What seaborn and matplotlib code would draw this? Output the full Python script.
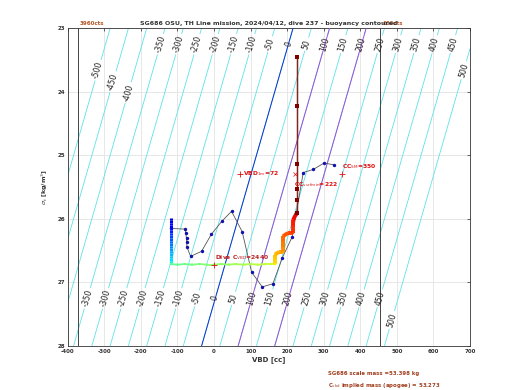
import numpy as np
import matplotlib
matplotlib.use("Agg")
import matplotlib.pyplot as plt
import seaborn as sns
import pandas as pd
from matplotlib.collections import LineCollection

# ---------------- data ----------------
vbd_ticks = [-400, -300, -200, -100, 0, 100, 200, 300, 400, 500, 600, 700]
sigma_ticks = [23, 24, 25, 26, 27, 28]

# buoyancy model: B[g] = VBD - buoy_vbd0 + buoy_per_sigma*(sigma - 23)
buoy_vbd0 = 216
buoy_per_sigma = 50
contour_levels = list(range(-500, 501, 50))
highlight_levels = [0, 100, 200]

vbd_min_limit = -372     # 3960 cts
vbd_max_limit = 454      # 600 cts

# observed samples (blue dots)
sample_vbd = [-118, -79, -77, -75, -75, -74, -64, -34, -7, 21, 48, 77, 103,
              132, 161, 187, 214, 244, 272, 301, 329]
sample_sigma = [26.15, 26.16, 26.22, 26.30, 26.36, 26.44, 26.59, 26.51, 26.24,
                26.04, 25.88, 26.20, 26.84, 27.07, 27.02, 26.61, 26.28, 25.27,
                25.22, 25.12, 25.15]

# glider track coloured by time
descent_vbd = [-118, -118, -118, -118, -118, -118, -118, -118, -118, -118,
               -118, -118, -118, -118, -118, -118, -118, -118, -118]
descent_sigma = [25.98, 26.02, 26.06, 26.10, 26.14, 26.18, 26.22, 26.26, 26.30,
                 26.34, 26.38, 26.42, 26.46, 26.50, 26.54, 26.58, 26.62, 26.66, 26.70]
apogee_vbd = [-118, -100, -80, -60, -40, -20, 0, 20, 40, 60, 80, 100, 120,
              140, 155, 167]
apogee_sigma = [26.71, 26.72, 26.71, 26.72, 26.71, 26.72, 26.72, 26.71, 26.72,
                26.71, 26.72, 26.71, 26.72, 26.71, 26.71, 26.71]
climb_vbd = [167, 167, 167, 178, 189, 189, 189, 189, 203, 216, 216, 216, 222, 227]
climb_sigma = [26.71, 26.64, 26.56, 26.52, 26.52, 26.45, 26.36, 26.27, 26.22,
               26.22, 26.12, 26.02, 25.95, 25.91]
surface_vbd = [227, 227, 227, 227, 227, 227]
surface_sigma = [25.91, 25.70, 25.53, 25.14, 24.22, 23.45]

vbd_1m = 72
cc_sm = 350
cc_surfmin = 222
marker_sigma = 25.29
dive_c_vbd = 2440
dive_c_vbd_x = 0
dive_c_vbd_sigma = 26.72

title = "SG686 OSU, TH Line mission, 2024/04/12, dive 237 - buoyancy contoured"
scale_mass_text = "SG686 scale mass =53.398 kg"
implied_mass_text = r"C$_{\mathrm{vbd}}$ implied mass (apogee) = 53.273"

# ---------------- figure ----------------
sns.set_style("white")
plt.rcParams["font.family"] = ["DejaVu Sans"]
plt.rcParams["axes.unicode_minus"] = False
plt.rcParams["contour.negative_linestyle"] = "solid"

fig = plt.figure(figsize=(5.2, 3.9), dpi=100)
ax = fig.add_axes([67.7 / 520, 1 - 346 / 390, (470 - 67.7) / 520, (346 - 28.3) / 390])

ax.set_xlim(-400, 700)
ax.set_ylim(28, 23)
ax.set_xticks(vbd_ticks)
ax.set_yticks(sigma_ticks)
ax.grid(True, color="#e3e3e3", linewidth=0.6)
ax.set_axisbelow(True)
ax.tick_params(direction="in", length=2.5, width=0.5, labelsize=4,
               top=True, right=True, pad=2)
for lab in ax.get_xticklabels() + ax.get_yticklabels():
    lab.set_fontweight("bold")
    lab.set_color("#333333")
for sp in ax.spines.values():
    sp.set_linewidth(0.6)
    sp.set_color("#333333")

# buoyancy contours
vg = np.linspace(-400, 700, 221)
sg = np.linspace(23, 28, 101)
V, S = np.meshgrid(vg, sg)
B = V - buoy_vbd0 + buoy_per_sigma * (S - 23)
cs = ax.contour(V, S, B, levels=contour_levels, colors="#5ee2e8",
                linewidths=0.6, linestyles="solid")


def on_line(level, sig):
    return (buoy_vbd0 + level - buoy_per_sigma * (sig - 23), sig)


top_row = {-500: 23.66, -450: 23.84, -400: 24.01, 500: 23.66}
bottom_row = {500: 27.59}
positions = []
for lv in contour_levels:
    if lv >= -350 or lv in top_row:
        positions.append(on_line(lv, top_row.get(lv, 23.25)))
    if lv >= -350:
        positions.append(on_line(lv, bottom_row.get(lv, 27.25)))
ax.clabel(cs, manual=positions, inline=True, fmt="%d", fontsize=5.5,
          colors="#222222", inline_spacing=2)

# highlighted buoyancy lines
sig_ends = np.array([23, 28])
for lv, col in zip(highlight_levels, ["#1030d0", "#a050d8", "#a050d8"]):
    ax.plot(buoy_vbd0 + lv - buoy_per_sigma * (sig_ends - 23), sig_ends,
            color=col, linewidth=0.7, zorder=3)

# VBD limit lines
for v in [vbd_min_limit, vbd_max_limit]:
    ax.axvline(v, color="#444444", linewidth=0.7, zorder=3)
ax.text(vbd_min_limit + 6, 22.96, "3960cts", color="#b55a2a", fontsize=4,
        fontweight="bold", va="bottom", ha="left")
ax.text(vbd_max_limit + 6, 22.96, "600cts", color="#b55a2a", fontsize=4,
        fontweight="bold", va="bottom", ha="left")

# sample points
samp = pd.DataFrame({"vbd": sample_vbd, "sigma": sample_sigma})
sns.lineplot(data=samp, x="vbd", y="sigma", sort=False, color="#555555",
             linewidth=0.6, ax=ax, zorder=4)
sns.scatterplot(data=samp, x="vbd", y="sigma", color="#1010b0", s=6,
                linewidth=0, ax=ax, zorder=5)

# coloured track
cmap = plt.get_cmap("jet")
segments = [
    (descent_vbd, descent_sigma, 0.06, 0.36, 2.2, 0),
    (apogee_vbd, apogee_sigma, 0.46, 0.6, 1.3, 3),
    (climb_vbd, climb_sigma, 0.66, 0.92, 2.8, 3),
    (surface_vbd, surface_sigma, 0.95, 1.0, 0.9, 0),
]
for xs, ys, c0, c1, lw, ms in segments:
    xs = np.asarray(xs, float)
    ys = np.asarray(ys, float)
    cvals = np.linspace(c0, c1, len(xs))
    pts = np.column_stack([xs, ys]).reshape(-1, 1, 2)
    segs = np.concatenate([pts[:-1], pts[1:]], axis=1)
    lc = LineCollection(segs, colors=cmap(cvals[1:]), linewidths=lw, zorder=6,
                        capstyle="butt")
    ax.add_collection(lc)
    if ms:
        ax.scatter(xs, ys, c=cmap(cvals), s=ms, linewidths=0, zorder=7)
ax.plot(surface_vbd, surface_sigma, color="#7a2a20", linewidth=0.9, zorder=6)
ax.scatter(surface_vbd, surface_sigma, color="#800000", s=6, marker="s",
           linewidths=0, zorder=7)

# annotations
red = "#e01010"
ax.plot([vbd_1m], [marker_sigma], "+", color=red, ms=4, mew=0.6, zorder=8)
ax.text(vbd_1m + 8, marker_sigma, r"VBD$_{\mathrm{1m}}$=72", color=red,
        fontsize=4.3, fontweight="bold", va="center", ha="left", zorder=8)
ax.plot([cc_sm], [marker_sigma], "+", color=red, ms=4, mew=0.6, zorder=8)
ax.text(cc_sm, marker_sigma - 0.05, r"CC$_{\mathrm{SM}}$=350", color=red,
        fontsize=4.3, fontweight="bold", va="bottom", ha="left", zorder=8)
ax.plot([cc_surfmin], [marker_sigma], "x", color=red, ms=3, mew=0.5, zorder=8)
ax.text(cc_surfmin - 4, marker_sigma + 0.1, r"CC$_{\mathrm{surfmin}}$=222",
        color=red, fontsize=4.3, fontweight="bold", va="top", ha="left", zorder=8)
ax.plot([dive_c_vbd_x], [dive_c_vbd_sigma], "+", color=red, ms=4, mew=0.6, zorder=8)
ax.text(dive_c_vbd_x + 2, dive_c_vbd_sigma - 0.04,
        r"Dive C$_{\mathrm{VBD}}$=%d" % dive_c_vbd, color="#c02020",
        fontsize=4.3, fontweight="bold", va="bottom", ha="left", zorder=8)

ax.set_xlabel("VBD [cc]", fontsize=5, fontweight="bold", color="#333333", labelpad=2)
ax.set_ylabel(r"$\sigma_t$ [kg/m$^3$]", fontsize=4.6, fontweight="bold",
              color="#333333", labelpad=5)
ax.set_title(title, fontsize=4.5, fontweight="bold", color="#333333", pad=2.5)

fig.text(328 / 520, 1 - 374 / 390, scale_mass_text, fontsize=3.9,
         fontweight="bold", color="#a04020", va="center", ha="left")
fig.text(328 / 520, 1 - 386 / 390, implied_mass_text, fontsize=3.9,
         fontweight="bold", color="#a04020", va="center", ha="left")

fig.savefig("out.png", dpi=100)
